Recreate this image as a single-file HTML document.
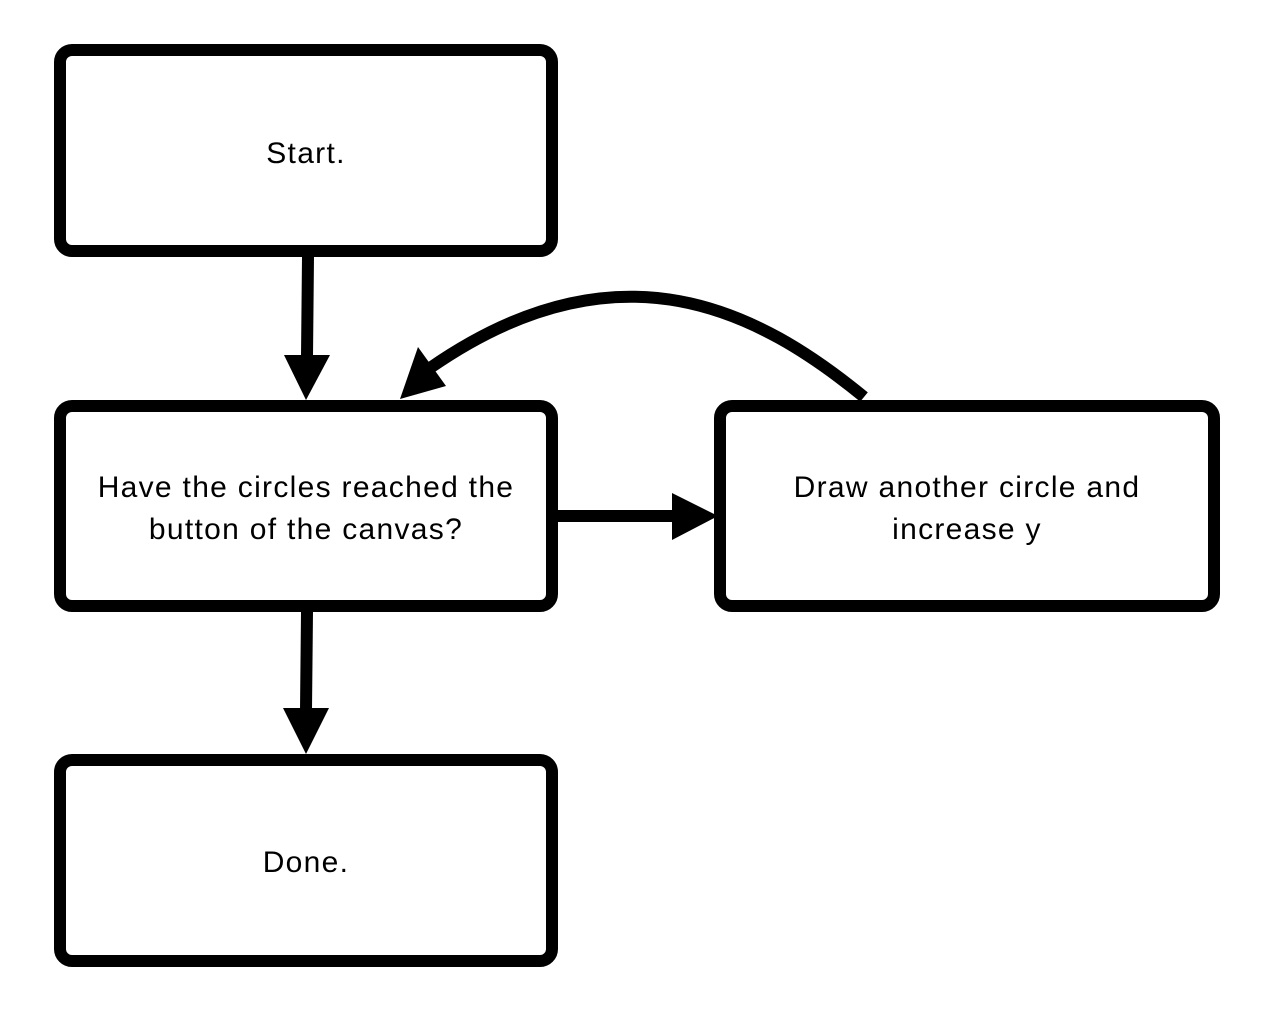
<!DOCTYPE html>
<html><head><style>
html,body{margin:0;padding:0;background:#fff;}
svg{display:block;}
text{font-family:"Liberation Sans",sans-serif;font-size:30px;letter-spacing:1.3px;fill:#000;text-anchor:middle;}
</style></head><body>
<svg width="1278" height="1020" viewBox="0 0 1278 1020">
<g fill="#fff" stroke="#000" stroke-width="12">
<rect x="60" y="50" width="492" height="201" rx="12"/>
<rect x="60" y="406" width="492" height="200" rx="12"/>
<rect x="720" y="406" width="494" height="200" rx="12"/>
<rect x="60" y="760" width="492" height="201" rx="12"/>
</g>
<g stroke="#000" stroke-width="12" fill="none">
<line x1="308" y1="257" x2="307" y2="356"/>
<line x1="307" y1="612" x2="306" y2="710"/>
<line x1="558" y1="516" x2="674" y2="516"/>
<path d="M864,397 C760,312 620,236 430,368"/>
</g>
<g fill="#000">
<polygon points="284,355 330,355 306,400"/>
<polygon points="283,708 329,708 306,754"/>
<polygon points="672,493 672,540 718,516"/>
<polygon points="400,399 418,347 446,386"/>
</g>
<text x="306" y="163">Start.</text>
<text x="306" y="497">Have the circles reached the</text>
<text x="306" y="539">button of the canvas?</text>
<text x="967" y="497">Draw another circle and</text>
<text x="967" y="539">increase y</text>
<text x="306" y="872">Done.</text>
</svg>
</body></html>
